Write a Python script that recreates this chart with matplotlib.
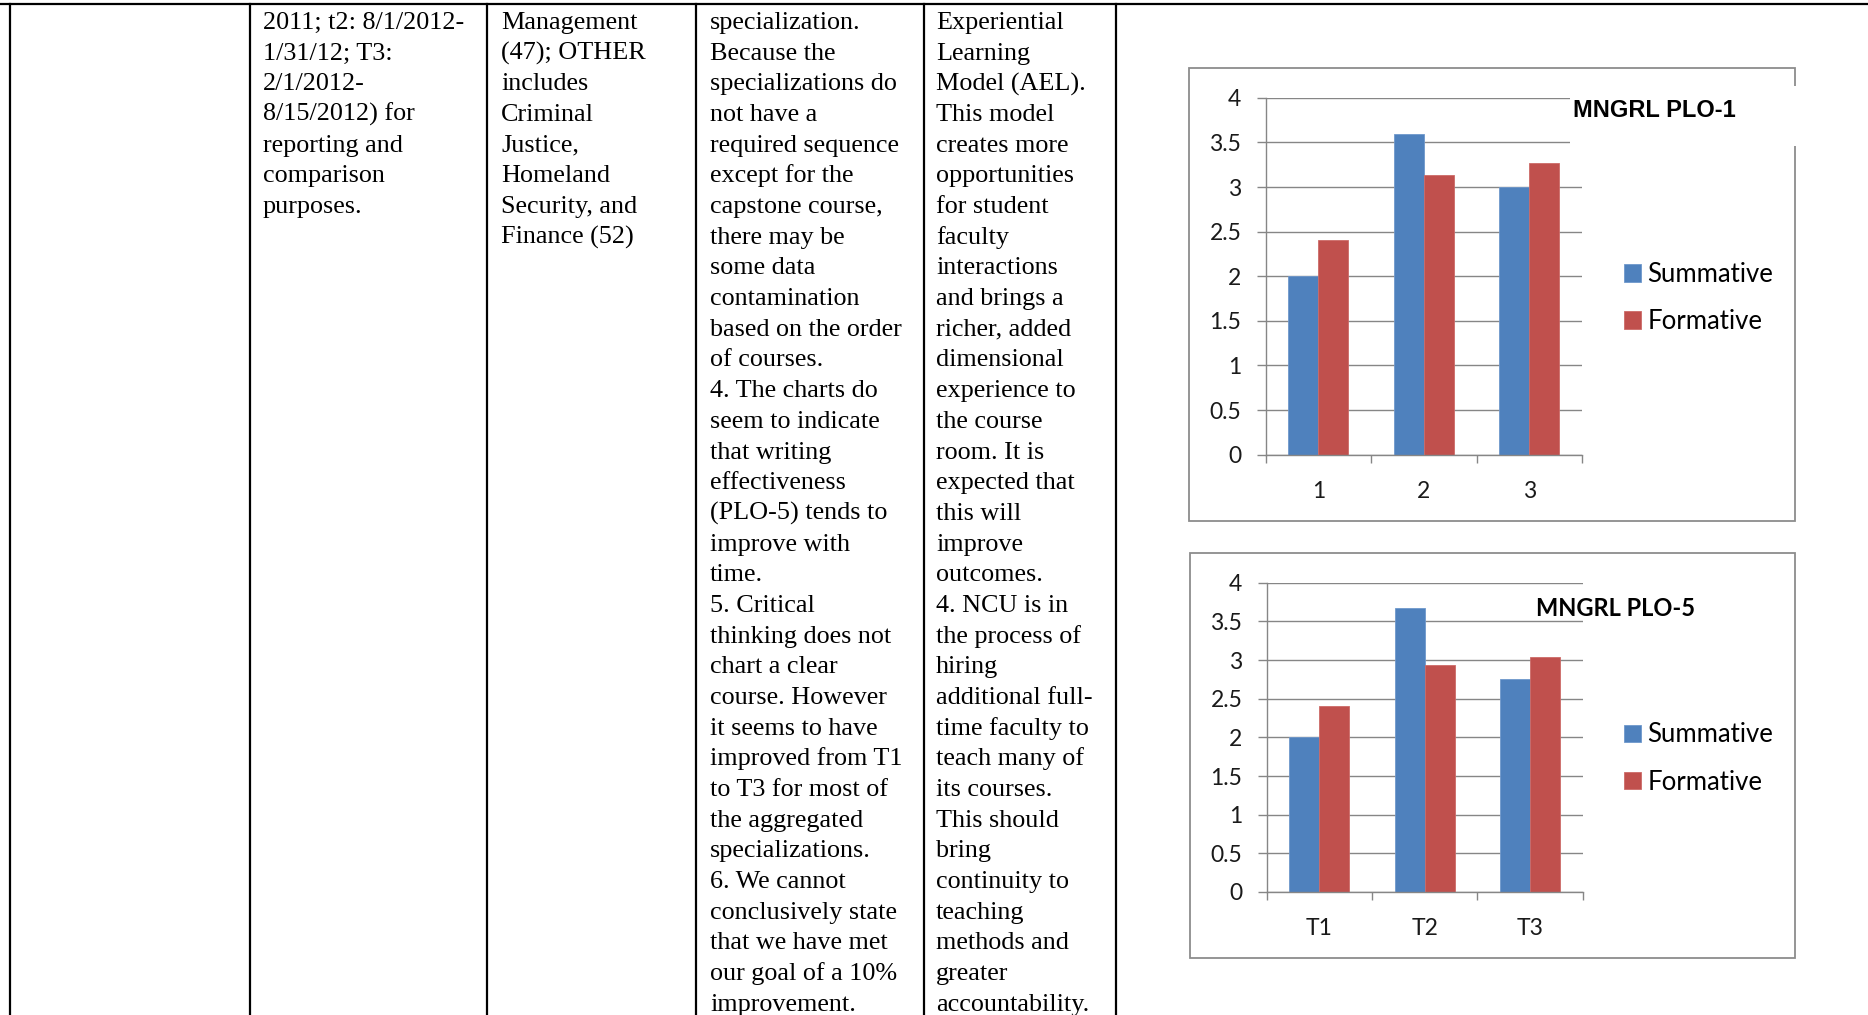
import matplotlib
matplotlib.use("Agg")
import numpy as np
import matplotlib.pyplot as plt
from matplotlib.patches import Rectangle

# ---- data ----
plo1_cats = ['1', '2', '3']
plo1_summative = [2.0, 3.59, 3.0]
plo1_formative = [2.41, 3.13, 3.27]

plo5_cats = ['T1', 'T2', 'T3']
plo5_summative = [2.0, 3.68, 2.76]
plo5_formative = [2.4, 2.94, 3.04]

series_names = ['Summative', 'Formative']
y_ticks = [0, 0.5, 1, 1.5, 2, 2.5, 3, 3.5, 4]
y_labels = ['0', '0.5', '1', '1.5', '2', '2.5', '3', '3.5', '4']

col2_text = ["2011; t2: 8/1/2012-", "1/31/12; T3:", "2/1/2012-", "8/15/2012) for",
             "reporting and", "comparison", "purposes."]
col3_text = ["Management", "(47); OTHER", "includes", "Criminal", "Justice,",
             "Homeland", "Security, and", "Finance (52)"]
col4_text = ["specialization.", "Because the", "specializations do", "not have a",
             "required sequence", "except for the", "capstone course,", "there may be",
             "some data", "contamination", "based on the order", "of courses.",
             "4. The charts do", "seem to indicate", "that writing", "effectiveness",
             "(PLO-5) tends to", "improve with", "time.", "5. Critical",
             "thinking does not", "chart a clear", "course. However", "it seems to have",
             "improved from T1", "to T3 for most of", "the aggregated", "specializations.",
             "6. We cannot", "conclusively state", "that we have met", "our goal of a 10%",
             "improvement."]
col5_text = ["Experiential", "Learning", "Model (AEL).", "This model", "creates more",
             "opportunities", "for student", "faculty", "interactions", "and brings a",
             "richer, added", "dimensional", "experience to", "the course", "room. It is",
             "expected that", "this will", "improve", "outcomes.", "4. NCU is in",
             "the process of", "hiring", "additional full-", "time faculty to",
             "teach many of", "its courses.", "This should", "bring", "continuity to",
             "teaching", "methods and", "greater", "accountability."]

W, H = 1868, 1015
fig = plt.figure(figsize=(W / 100, H / 100), dpi=100)
fig.patch.set_facecolor('white')

# page layer in pixel coordinates
bg = fig.add_axes([0, 0, 1, 1])
bg.set_xlim(0, W)
bg.set_ylim(H, 0)
bg.axis('off')

# table grid
bg.plot([0, W], [3.5, 3.5], color='black', lw=1.6)
for x in [10, 250, 487, 696, 924, 1116]:
    bg.plot([x, x], [3.5, H], color='black', lw=1.6)

# table text
first_base = 29.0
pitch = 30.68
for x0, lines in [(263, col2_text), (501, col3_text), (710, col4_text), (936, col5_text)]:
    for i, s in enumerate(lines):
        bg.text(x0, first_base + i * pitch, s, fontsize=18.8, family='Liberation Serif',
                ha='left', va='baseline', color='black')

grid_col = '#868686'


def px_axes(l, t, r, b):
    return fig.add_axes([l / W, 1 - b / H, (r - l) / W, (b - t) / H])


def bar_chart(box, area, cats, summ, form, legend_y):
    # chart frame
    bg.add_patch(Rectangle((box[0], box[1]), box[2] - box[0], box[3] - box[1],
                           fill=False, edgecolor='#8c8c8c', lw=1.3, zorder=2))
    ax = px_axes(*area)
    x = np.arange(len(cats))
    w = 1 / 3.5
    b1 = ax.bar(x - w / 2, summ, w, color='#4F81BD', edgecolor='#6f98cc',
                linewidth=0.6, label=series_names[0])
    b2 = ax.bar(x + w / 2, form, w, color='#C0504D', edgecolor='#cc6b68',
                linewidth=0.6, label=series_names[1])
    ax.set_xlim(-0.5, len(cats) - 0.5)
    ax.set_ylim(0, 4)
    ax.set_yticks(y_ticks)
    ax.set_yticklabels(y_labels)
    ax.set_xticks(x)
    ax.set_xticklabels(cats)
    ax.set_xticks(np.arange(len(cats) + 1) - 0.5, minor=True)
    ax.set_axisbelow(True)
    ax.yaxis.grid(True, color=grid_col, lw=1.0)
    for s in ['top', 'right']:
        ax.spines[s].set_visible(False)
    for s in ['left', 'bottom']:
        ax.spines[s].set_color(grid_col)
        ax.spines[s].set_linewidth(1.0)
    ax.tick_params(axis='y', length=6.5, width=1.0, color=grid_col, pad=11,
                   labelsize=16.5, labelcolor='#1a1a1a')
    ax.tick_params(axis='x', which='major', length=0, pad=19, labelsize=16.5,
                   labelcolor='#1a1a1a')
    ax.tick_params(axis='x', which='minor', length=5.5, width=1.0, color=grid_col)
    for lab in ax.get_xticklabels() + ax.get_yticklabels():
        lab.set_family('Lato')
    ax.legend(handles=[b1, b2], loc='center left',
              bbox_to_anchor=(1624 / W, 1 - legend_y / H), bbox_transform=fig.transFigure,
              frameon=False, borderpad=0, borderaxespad=0, handlelength=0.66,
              handleheight=0.66, handletextpad=0.25, labelspacing=0.86,
              prop={'family': 'Lato', 'size': 18.5})
    return ax


ax1 = bar_chart((1189, 68, 1795, 521), (1265.6, 97.8, 1582, 454.7),
                plo1_cats, plo1_summative, plo1_formative, 298)
ax2 = bar_chart((1190, 553, 1795, 958), (1266.6, 582.8, 1582.7, 892),
                plo5_cats, plo5_summative, plo5_formative, 758.5)

# title of first chart sits on a white box that hides grid and frame
over = fig.add_axes([0, 0, 1, 1], facecolor='none')
over.set_xlim(0, W)
over.set_ylim(H, 0)
over.axis('off')
over.add_patch(Rectangle((1570, 86), 230, 60, facecolor='white', edgecolor='none'))
over.text(1654, 110, 'MNGRL PLO-1', family='Liberation Sans', weight='bold',
          fontsize=17, ha='center', va='center', color='black')
over.text(1615.5, 609, 'MNGRL PLO-5', family='Lato',
          weight='bold', fontsize=17, ha='center', va='center', color='black')

fig.savefig('out.png', dpi=100, facecolor='white')
